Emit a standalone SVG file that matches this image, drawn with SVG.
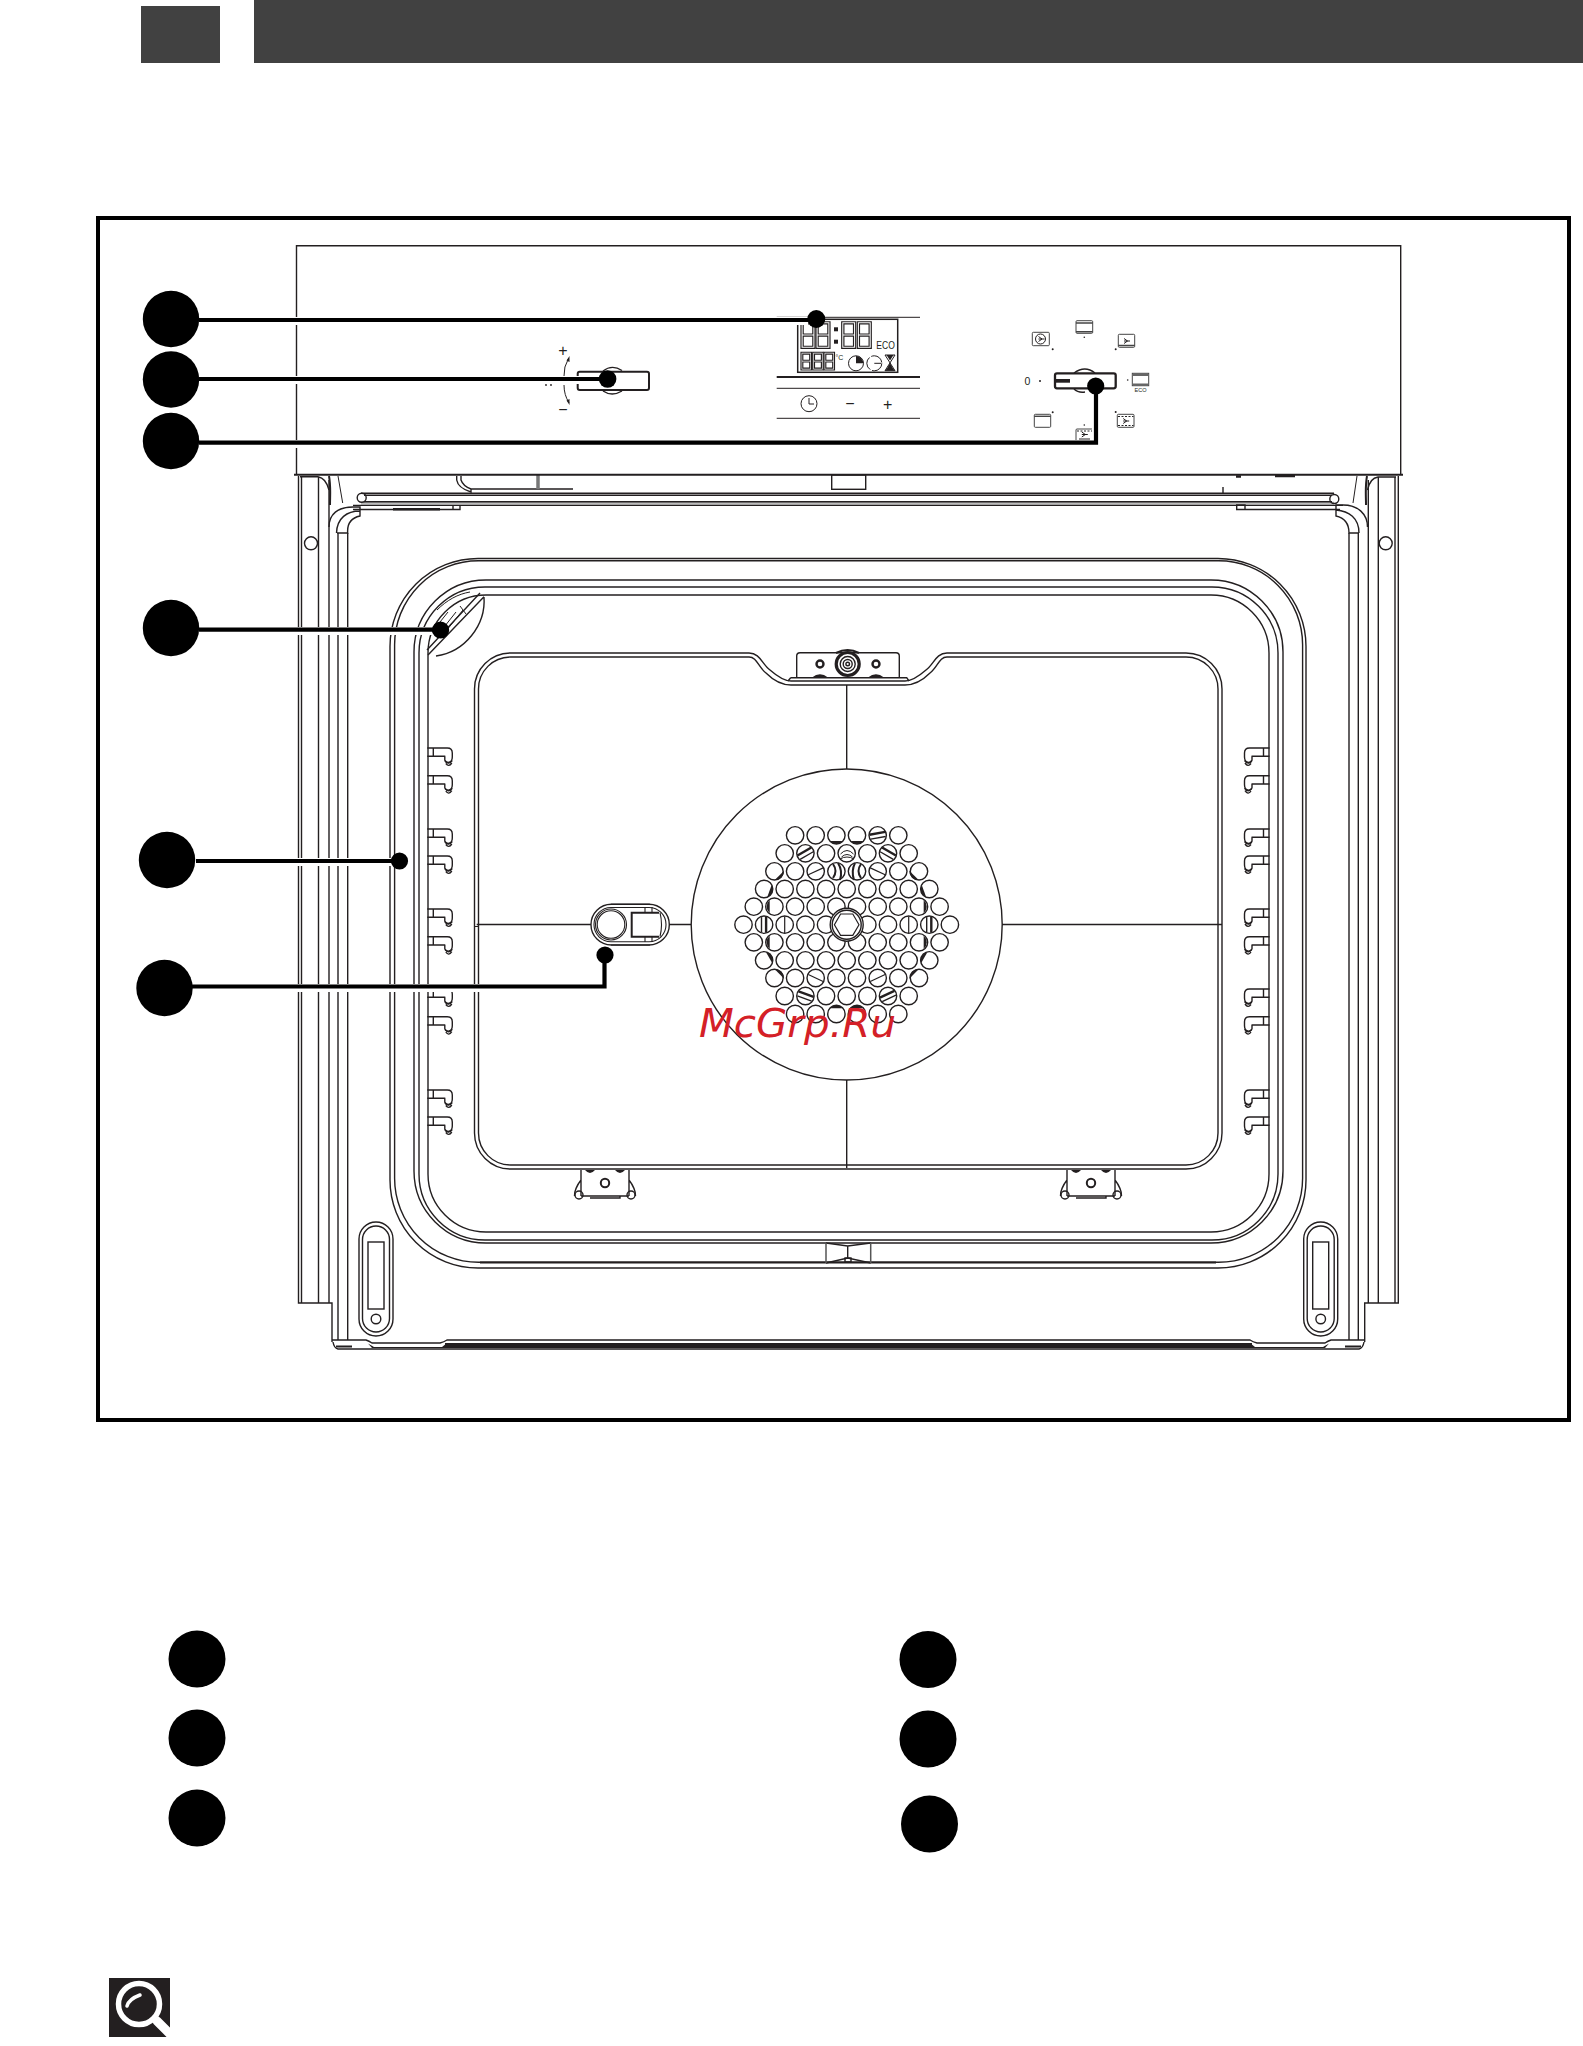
<svg xmlns="http://www.w3.org/2000/svg" width="1583" height="2046" viewBox="0 0 1583 2046">
<style>
text{font-family:"Liberation Sans","DejaVu Sans",sans-serif;fill:#231f20}
.l{fill:none;stroke:#231f20;stroke-width:1.4}
.t{fill:none;stroke:#231f20;stroke-width:1}
.m{fill:none;stroke:#231f20;stroke-width:2}
.k{fill:#231f20;stroke:none}
.b{fill:#000;stroke:none}
.ch{fill:none;stroke:#000;stroke-width:4.2}
.hl{fill:none;stroke:#fff;stroke-width:8}
.h{fill:#414141;stroke:none}
.ic{fill:none;stroke:#444;stroke-width:1}
.dg{fill:none;stroke:#231f20;stroke-width:1.15}
</style>
<defs>
<g id="rack" class="l"><path d="M0 0H20Q25 0 25 5V9M0 8.3H18M6 0V8.3M17.5 8.3V12Q18 14.5 21 14.5Q25 14 25 9"/><path d="M18 13Q21 17.5 25 12.5M18.5 15.5Q21.5 19.5 24.5 15"/></g>
<g id="hinge"><path class="l" d="M-24 0V26M24 0V26M-24 10C-28 15 -31 22 -30.5 26M24 10C28 15 31 22 30.5 26M-15 26H15V28H-15M-24 26H-15M15 26H24"/><circle class="l" cx="-26" cy="25" r="4"/><circle class="l" cx="26" cy="25" r="4"/><circle class="m" cx="0" cy="13" r="4.2"/><path class="k" d="M-20 0Q-15 6 -10 0ZM10 0Q15 6 20 0Z"/></g>
<g id="latch" class="l"><rect x="-17" y="0" width="34" height="114" rx="17"/><rect x="-13.5" y="4" width="27" height="106" rx="13.5"/><rect x="-8" y="20" width="16" height="67"/><circle cx="0" cy="97" r="4.8"/></g>
<path id="seg" d="M-6.6 5.7A8.7 8.7 0 0 0 6.6 5.7Z" fill="#231f20"/>
<line id="ln" x1="-8.2" y1="0" x2="8.2" y2="0" stroke="#231f20" stroke-width="1.2"/>
<g id="bd"><line x1="-8" y1="-2" x2="8" y2="-2" stroke="#231f20" stroke-width="2.4"/><line x1="-7.6" y1="2.6" x2="7.6" y2="2.6" stroke="#231f20" stroke-width="1.4"/></g>
<g id="c6" class="l"><circle cx="-10.3" r="8.7"/><circle cx="10.3" r="8.7"/><circle cx="-31" r="8.7"/><circle cx="31" r="8.7"/><circle cx="-51.6" r="8.7"/><circle cx="51.6" r="8.7"/></g>
<g id="c7" class="l"><circle cx="0" r="8.7"/><circle cx="-20.65" r="8.7"/><circle cx="20.65" r="8.7"/><circle cx="-41.3" r="8.7"/><circle cx="41.3" r="8.7"/><circle cx="-62" r="8.7"/><circle cx="62" r="8.7"/></g>
<g id="c8"><use href="#c6"/><g class="l"><circle cx="-72.3" r="8.7"/><circle cx="72.3" r="8.7"/></g></g>
<g id="c9"><use href="#c7"/><g class="l"><circle cx="-82.6" r="8.7"/><circle cx="82.6" r="8.7"/></g></g>
<g id="c10"><use href="#c8"/><g class="l"><circle cx="-92.9" r="8.7"/><circle cx="92.9" r="8.7"/></g></g>
<g id="c11"><use href="#c9"/><g class="l"><circle cx="-103.2" r="8.7"/><circle cx="103.2" r="8.7"/></g></g>
<g id="d8" class="dg"><path d="M0 0H14V26.7H0ZM2.2 2.2H11.8V12.3H2.2ZM2.2 14.4H11.8V24.5H2.2Z"/></g>
<g id="d3" class="dg"><path d="M0 0H10.500V17.700H0ZM1.800 1.800H8.700V8H1.800ZM1.800 9.700H8.700V15.900H1.800Z"/></g>
<g id="fs" class="t"><path d="M-2.5 -2.5L1 0L-2.5 2.5M-2.5 0H3.5"/></g>
</defs>

<g id="header"><rect class="h" x="141" y="6" width="79" height="57"/><rect class="h" x="254" y="0" width="1329" height="63"/></g>
<rect id="frame" x="98" y="218" width="1471" height="1202" fill="none" stroke="#000" stroke-width="4"/>

<g id="oven-body">
<path class="l" d="M298.5 476V1303H332V1342M301.5 477V1303M318.5 477V1303M329 480V1303M338 533V1340M347.7 533V1340"/>
<path class="l" d="M1398.3 476V1303H1364.7V1342M1395 477V1303M1378.3 477V1303M1368.3 480V1303M1358.3 533V1340M1349 533V1340"/>
<path class="l" d="M300 476.7H318Q326 478 329 490M1396 477H1378Q1370 478 1367.5 490"/>
<circle class="l" cx="311" cy="543.3" r="6.5"/><circle class="l" cx="1385.7" cy="543.3" r="6.5"/>
<path class="l" d="M332 1340H366Q369 1341 372 1343H440Q444 1342 447 1340H1250Q1253 1342 1257 1343H1325Q1328 1341 1331 1340H1365"/>
<path class="l" d="M333 1342Q334 1348 338 1349H1359Q1363 1348 1364 1342"/>
<path class="m" d="M336 1346.500H352M1345 1346.500H1361" stroke-width="3"/>
<path fill="#231f20" d="M368 1343.500L374 1347H442L447 1343H1250L1255 1347H1323L1329 1343.500L1325 1348H372Z"/>
<rect class="k" x="445" y="1343" width="807" height="4.500"/>
<path class="l" d="M329 527C329 514 338 507 353 507H360V511C347 511 337 518 336.500 533M337 533H347.700C347 524 351 518 360 516V511"/>
<path class="l" d="M1367.500 527C1367.500 514 1358 505 1343 505H1336V510C1349 511 1359 518 1359 533M1358.500 533H1349C1349 524 1345 518 1336 516V510"/>
<path class="m" d="M329 476C331 487 330 495 330 505M1367 476C1365 487 1366 495 1366 505"/>
<path class="t" d="M338 476L342.700 503M1357 476L1353 503"/>
<rect x="361" y="501.700" width="973" height="3" fill="#bbb"/>
<path class="l" d="M361 493.200H1334M364 495.200H1332M364 501.700H1332M353 505.400H1343"/>
<circle class="l" cx="361.700" cy="497.700" r="4.500"/><circle class="l" cx="1334.300" cy="499" r="4.500"/>
<path class="l" d="M353 509.500H460V505M453 505V509.500M1236.700 505H1245V509.500H1236.700ZM1245 509.500H1340"/>
<rect class="k" x="393" y="508" width="47" height="2.500"/>
<path class="l" d="M456.700 476V480Q458 488 471 492V489H538M461 476V480Q463 486 471 489M538 489H573"/>
<path d="M538 475V489" stroke="#777" stroke-width="3.500" fill="none"/>
<rect class="l" x="831.700" y="475" width="34" height="14.300"/>
<path class="l" d="M1223 487V493"/>
<path d="M1275 476H1295M1236 476.500H1241" stroke="#231f20" stroke-width="2.500" fill="none"/>
<rect class="l" x="390" y="558.500" width="916" height="709.500" rx="88"/>
<rect class="l" x="394.600" y="560.800" width="908" height="701.500" rx="84"/>
<path class="m" d="M480 1262.500H1216"/>
<rect class="l" x="414" y="580" width="869" height="663" rx="72"/>
<rect class="l" x="419" y="587" width="859" height="653" rx="66"/>
<rect class="l" x="428" y="595" width="841" height="637" rx="58"/>
<path class="l" d="M484 596.700L428 655M480 593L427 650M484 597C486 625 465 652 436 656"/>
<path class="t" d="M437 610C447 600 458 594 470 592M432 632L448 612M437 636L456 612M442 636L463 610M460 606L466 614"/>
</g>

<g id="cavity">
<path class="l" d="M474.500 689A36 36 0 0 1 510.500 653H749C760 653 762 664 770 670C778 677 784 681 791 681H905C912 681 918 677 926 670C934 664 936 653 947 653H1186A36 36 0 0 1 1222 689V1133A36 36 0 0 1 1186 1169H510.500A36 36 0 0 1 474.500 1133Z"/>
<path class="l" d="M478.500 689A32 32 0 0 1 510.500 657H749C757 657 758 667 766 673C774 681 781 685 791 685H905C915 685 922 681 930 673C938 667 939 657 947 657H1186A32 32 0 0 1 1218 689V1133A32 32 0 0 1 1186 1165H510.500A32 32 0 0 1 478.500 1133Z"/>
<path class="l" d="M476.700 924.500H591M669.300 924.500H691M1002 924.500H1222M846.700 685V769M846.700 1080V1168"/>
<path class="t" d="M474 926.500H478"/>
</g>

<g id="top-bracket" class="l">
<path d="M796.700 678V656Q796.700 652.700 800 652.700H896Q899.300 652.700 899.300 656V678M790.700 677.700H906.700L909 681M790.700 677.700L788 681"/>
<path class="m" d="M836 653Q847.700 647 859 653"/>
<circle cx="847.700" cy="664" r="11.500" stroke-width="3.200"/><circle cx="847.700" cy="664" r="7.500"/><circle cx="847.700" cy="664" r="4.500"/><circle cx="847.700" cy="664" r="1.800"/>
<circle cx="820" cy="664" r="3.500" stroke-width="2.400"/><circle cx="876" cy="664" r="3.500" stroke-width="2.400"/>
<path class="k" d="M812 677.500Q820 671 828 677.500ZM868 677.500Q876 671 884 677.500Z"/>
</g>

<g id="racks">
<use href="#rack" x="427.300" y="748"/><use href="#rack" x="427.300" y="775.700"/><use href="#rack" x="427.300" y="829"/><use href="#rack" x="427.300" y="856"/><use href="#rack" x="427.300" y="909"/><use href="#rack" x="427.300" y="936.700"/><use href="#rack" x="427.300" y="989"/><use href="#rack" x="427.300" y="1016.700"/><use href="#rack" x="427.300" y="1090"/><use href="#rack" x="427.300" y="1117"/>
<use href="#rack" transform="translate(1269.500 748) scale(-1 1)"/><use href="#rack" transform="translate(1269.500 775.700) scale(-1 1)"/><use href="#rack" transform="translate(1269.500 829) scale(-1 1)"/><use href="#rack" transform="translate(1269.500 856) scale(-1 1)"/><use href="#rack" transform="translate(1269.500 909) scale(-1 1)"/><use href="#rack" transform="translate(1269.500 936.700) scale(-1 1)"/><use href="#rack" transform="translate(1269.500 989) scale(-1 1)"/><use href="#rack" transform="translate(1269.500 1016.700) scale(-1 1)"/><use href="#rack" transform="translate(1269.500 1090) scale(-1 1)"/><use href="#rack" transform="translate(1269.500 1117) scale(-1 1)"/>
</g>

<g id="hinges"><use href="#hinge" x="605" y="1170"/><use href="#hinge" x="1091" y="1170"/></g>
<g id="latches"><use href="#latch" x="376" y="1222"/><use href="#latch" x="1320.700" y="1222"/></g>
<g id="bottom-centre" class="l"><path d="M826 1243L847.700 1246L870.700 1243M826 1263L847.700 1258L870.700 1263M847.700 1246V1258"/><path stroke="#555" stroke-width="1.500" d="M826 1243V1263M870.700 1243V1263"/><rect x="845" y="1258" width="6" height="4"/></g>

<g id="lamp" class="l">
<rect x="591" y="904.300" width="78.300" height="40.700" rx="20.300"/>
<rect x="594" y="907.500" width="72" height="34.300" rx="17" stroke-width="1.100"/>
<circle cx="611" cy="924.500" r="15.500" stroke-width="1.100"/><circle cx="611" cy="924.500" r="13.800" stroke-width="1.100"/>
<path class="m" d="M659 912.700H631.700V936.700H659"/>
<path stroke-width="1.100" d="M645 907V912.700M652 907V912.700M645 936.700V942M652 936.700V942M660 912.700Q663 924.500 660 936.700M611 904.300H650M611 945H650"/>
</g>

<g id="fan">
<circle class="l" cx="846.700" cy="924.500" r="155.500"/>
<use href="#c6" transform="translate(846.700 835.300)"/><use href="#c7" transform="translate(846.700 853.300)"/><use href="#c8" transform="translate(846.700 871.300)"/><use href="#c9" transform="translate(846.700 889)"/><use href="#c10" transform="translate(846.700 906.700)"/><use href="#c11" transform="translate(846.700 924.700)"/><use href="#c10" transform="translate(846.700 942.300)"/><use href="#c9" transform="translate(846.700 960.300)"/><use href="#c8" transform="translate(846.700 978)"/><use href="#c7" transform="translate(846.700 996)"/><use href="#c6" transform="translate(846.700 1014)"/>
<use href="#seg" transform="translate(836.400 835.300)"/><use href="#seg" transform="translate(857 835.300)"/><use href="#bd" transform="translate(877.700 835.300) rotate(-10)"/>
<use href="#bd" transform="translate(805.400 853.300) rotate(-30)"/><use href="#bd" transform="translate(888 853.300) rotate(30)"/><path class="t" d="M840.500 854Q847 847 853.500 854M841.500 857Q847 852 852.500 857M840 859Q847 855 854 859"/>
<use href="#seg" transform="translate(775.400 871.300) rotate(-45)"/><use href="#seg" transform="translate(918 871.300) rotate(45)"/><use href="#ln" transform="translate(815.700 871.300) rotate(-25)"/><use href="#ln" transform="translate(877.700 871.300) rotate(25)"/>
<path class="m" d="M833 864Q838 871 833 878M838 863Q843 871 840 880M855 863Q851 871 854 880M861 864Q856 871 861 878"/>
<use href="#seg" transform="translate(764.100 889) rotate(-70)"/><use href="#seg" transform="translate(929.300 889) rotate(70)"/>
<use href="#seg" transform="translate(775.400 906.700) rotate(90)"/><use href="#seg" transform="translate(918 906.700) rotate(-90)"/>
<use href="#bd" transform="translate(764.100 924.700) rotate(90)"/><use href="#ln" transform="translate(784.700 924.700) rotate(90)"/><use href="#ln" transform="translate(908.700 924.700) rotate(90)"/><use href="#bd" transform="translate(929.300 924.700) rotate(90)"/>
<use href="#seg" transform="translate(775.400 942.300) rotate(90)"/><use href="#seg" transform="translate(918 942.300) rotate(-90)"/>
<use href="#seg" transform="translate(764.100 960.300) rotate(-120)"/><use href="#seg" transform="translate(929.300 960.300) rotate(120)"/>
<use href="#seg" transform="translate(775.400 978) rotate(-135)"/><use href="#seg" transform="translate(918 978) rotate(135)"/><use href="#ln" transform="translate(815.700 978) rotate(25)"/><use href="#ln" transform="translate(877.700 978) rotate(-25)"/>
<use href="#bd" transform="translate(805.400 996) rotate(20)"/><use href="#bd" transform="translate(888 996) rotate(-25)"/>
<use href="#seg" transform="translate(836.400 1014) rotate(180)"/><use href="#seg" transform="translate(857 1014) rotate(180)"/>
<circle cx="846.700" cy="924.700" r="16.500" fill="#fff" stroke="#231f20" stroke-width="1.400"/><circle class="l" cx="846.700" cy="924.700" r="14.500"/>
<path fill="#fff" stroke="#231f20" stroke-width="1.200" d="M859 924.700L852.800 914L840.600 914L834.400 924.700L840.600 935.400L852.800 935.400Z"/>
</g>

<g id="panel">
<path class="l" d="M296.500 475V245.700H1400.700V475"/>
<path class="m" d="M294 474.700H1403"/>
</g>

<g id="selector-left">
<rect x="577.700" y="371.700" width="71.300" height="18.300" rx="2" fill="none" stroke="#231f20" stroke-width="2"/>
<path class="l" d="M603 371Q612 364 622 370.500M603 391Q612 397 622 391"/>
<path class="t" d="M568.700 358Q563.500 367 564 376M564 385Q564 395 569 402.700"/>
<path class="k" d="M569.500 356L569.500 362L566.500 360.500ZM569.500 405L569.500 399L566.500 400.500Z"/>
<text x="563" y="356" font-size="16" text-anchor="middle">+</text>
<text x="563" y="415" font-size="16" text-anchor="middle">−</text>
<circle class="k" cx="546" cy="385" r="0.900"/><circle class="k" cx="551" cy="385" r="0.900"/>
</g>

<g id="display">
<path class="t" d="M776.700 317.300H920M776.700 388.300H920M776.700 418.300H920"/>
<path class="m" d="M776.700 377H920" stroke-width="3"/>
<rect x="797.700" y="319.300" width="100" height="53" fill="none" stroke="#231f20" stroke-width="1.500"/>
<use href="#d8" x="801" y="321.700"/><use href="#d8" x="816" y="321.700"/><use href="#d8" x="841.700" y="321.700"/><use href="#d8" x="857.300" y="321.700"/>
<rect class="k" x="834" y="327.300" width="4" height="4"/><rect class="k" x="834" y="339.700" width="4" height="4"/>
<text x="876.300" y="348.800" font-size="10.500" textLength="18.500" lengthAdjust="spacingAndGlyphs">ECO</text>
<use href="#d3" x="801" y="352.300"/><use href="#d3" x="812.700" y="352.300"/><use href="#d3" x="824" y="352.300"/>
<text x="835.500" y="360" font-size="7">°C</text>
<circle class="t" cx="856" cy="363.300" r="7.500"/><path class="k" d="M856 363.300V356A7.500 7.500 0 0 1 863.300 363.300Z"/>
<circle class="t" cx="874.300" cy="363.300" r="7.500" stroke-dasharray="14 2"/><path class="t" d="M874.300 363.300H881"/>
<path class="t" d="M885 355H895L885 370.700H895Z"/><path class="k" d="M887 368.500L890 363L893 368.500L895 370.700H885ZM886.500 355H893.500L890 360.500Z"/>
<circle class="t" cx="809" cy="403.700" r="8"/><path class="t" d="M809 398V404H814"/>
<text x="850" y="409" font-size="16" text-anchor="middle">−</text>
<text x="887.700" y="409.500" font-size="16" text-anchor="middle">+</text>
</g>

<g id="selector-right">
<rect x="1055" y="373.300" width="60.700" height="15" rx="2" fill="none" stroke="#231f20" stroke-width="2.300"/>
<rect class="k" x="1055" y="379" width="15" height="3.700"/>
<path class="l" d="M1074 373Q1085 365 1095 373M1074 389Q1078 393 1085 392"/>
<text x="1027.300" y="385" font-size="10.500" text-anchor="middle">0</text>
<g class="k"><circle cx="1040" cy="381" r="1"/><circle cx="1052.700" cy="349.300" r="1"/><circle cx="1084.300" cy="337.300" r="0.800"/><circle cx="1115.700" cy="349.300" r="1"/><circle cx="1127.700" cy="380" r="0.800"/><circle cx="1115.700" cy="412" r="1"/><circle cx="1084.300" cy="425" r="0.800"/><circle cx="1052.700" cy="412.300" r="1"/></g>
<rect class="ic" x="1032.300" y="332.300" width="17" height="13.400" rx="1"/><circle class="t" cx="1040.500" cy="339" r="5"/><use href="#fs" x="1041" y="339"/>
<rect class="ic" x="1076" y="320.700" width="16.700" height="12.600" rx="1"/><path stroke="#444" stroke-width="1.400" d="M1076 323H1092.700M1076 331.800H1092.700"/>
<rect class="ic" x="1118.300" y="334.300" width="16.400" height="13" rx="1"/><path stroke="#444" stroke-width="1.500" d="M1118.300 345.500H1134.700"/><use href="#fs" x="1126.500" y="341"/>
<rect class="ic" x="1132.300" y="373.300" width="16.400" height="12.400"/><path stroke="#666" stroke-width="2.200" d="M1132.300 374.800H1148.700M1132.300 384.500H1148.700"/>
<text x="1134.500" y="391.500" font-size="4.500" textLength="12" lengthAdjust="spacingAndGlyphs">ECO</text>
<rect class="ic" x="1117.300" y="414.300" width="16.700" height="13" rx="1"/><path stroke="#222" stroke-width="1" stroke-dasharray="2 1.500" d="M1118 416.500H1133.500M1118 425.500H1133.500"/><use href="#fs" x="1125.700" y="421"/>
<rect class="ic" x="1034.300" y="414.300" width="16.400" height="13" rx="1"/><path stroke="#444" stroke-width="1.400" d="M1034.300 416.300H1050.700"/>
<path class="ic" d="M1076 441V430Q1076 429 1077 429H1091.700Q1092.700 429 1092.700 430V441"/><path stroke="#222" stroke-width="1" stroke-dasharray="2 1.500" d="M1077 431H1092"/><use href="#fs" x="1084.300" y="434.500"/><path class="t" d="M1079 439H1090"/>
</g>

<g id="connectors">
<path class="hl" d="M199 321H808"/><path class="hl" d="M199 380H598"/>
<path class="hl" d="M199 444H1100"/><path class="hl" d="M1096 394V443"/>
<path class="hl" d="M199 631H432"/><path class="hl" d="M196 862H391"/><path class="hl" d="M190 988H604"/><path class="hl" d="M604.500 962V987"/>
<path class="ch" d="M199 320H816"/>
<path class="ch" d="M199 379H607"/>
<path class="ch" d="M199 442.700H1096V386"/>
<path class="ch" d="M199 629.700H440"/>
<path class="ch" d="M196 861H399.500"/>
<path class="ch" d="M192 986.500H604.500V955"/>
</g>

<g id="callout-1"><circle class="b" cx="171" cy="319" r="28.200"/><circle class="b" cx="816.300" cy="319" r="9"/></g>
<g id="callout-2"><circle class="b" cx="171" cy="379.500" r="28.200"/><circle class="b" cx="607.600" cy="379" r="8.800"/></g>
<g id="callout-3"><circle class="b" cx="171" cy="441" r="28.200"/><circle class="b" cx="1095.700" cy="386" r="8.600"/></g>
<g id="callout-4"><circle class="b" cx="171" cy="628" r="28.200"/><circle class="b" cx="440.600" cy="630" r="8.600"/></g>
<g id="callout-5"><circle class="b" cx="167" cy="860" r="28.200"/><circle class="b" cx="399.500" cy="861" r="8.600"/></g>
<g id="callout-6"><circle class="b" cx="164.500" cy="988" r="28.200"/><circle class="b" cx="605" cy="955" r="8.600"/></g>

<g id="legend-1"><circle class="b" cx="197" cy="1659" r="28.500"/></g>
<g id="legend-2"><circle class="b" cx="197" cy="1738" r="28.500"/></g>
<g id="legend-3"><circle class="b" cx="197" cy="1818" r="28.500"/></g>
<g id="legend-4"><circle class="b" cx="928" cy="1659.500" r="28.500"/></g>
<g id="legend-5"><circle class="b" cx="928" cy="1739" r="28.500"/></g>
<g id="legend-6"><circle class="b" cx="929.500" cy="1824" r="28.500"/></g>

<g id="search-icon">
<rect x="109" y="1978" width="61" height="59" fill="#231f20"/>
<circle cx="139" cy="2004" r="20.500" fill="none" stroke="#fff" stroke-width="5.500"/>
<path d="M127 2006Q129 1999 140 1995" fill="none" stroke="#fff" stroke-width="3.500" stroke-linecap="round"/>
<path d="M157 2021L170 2034" fill="none" stroke="#fff" stroke-width="9" stroke-linecap="round"/>
</g>

<text id="watermark" x="699" y="1037" font-size="39" font-style="italic" textLength="197" lengthAdjust="spacingAndGlyphs" style="font-family:'DejaVu Sans',sans-serif;fill:#d42027">McGrp.Ru</text>
</svg>
